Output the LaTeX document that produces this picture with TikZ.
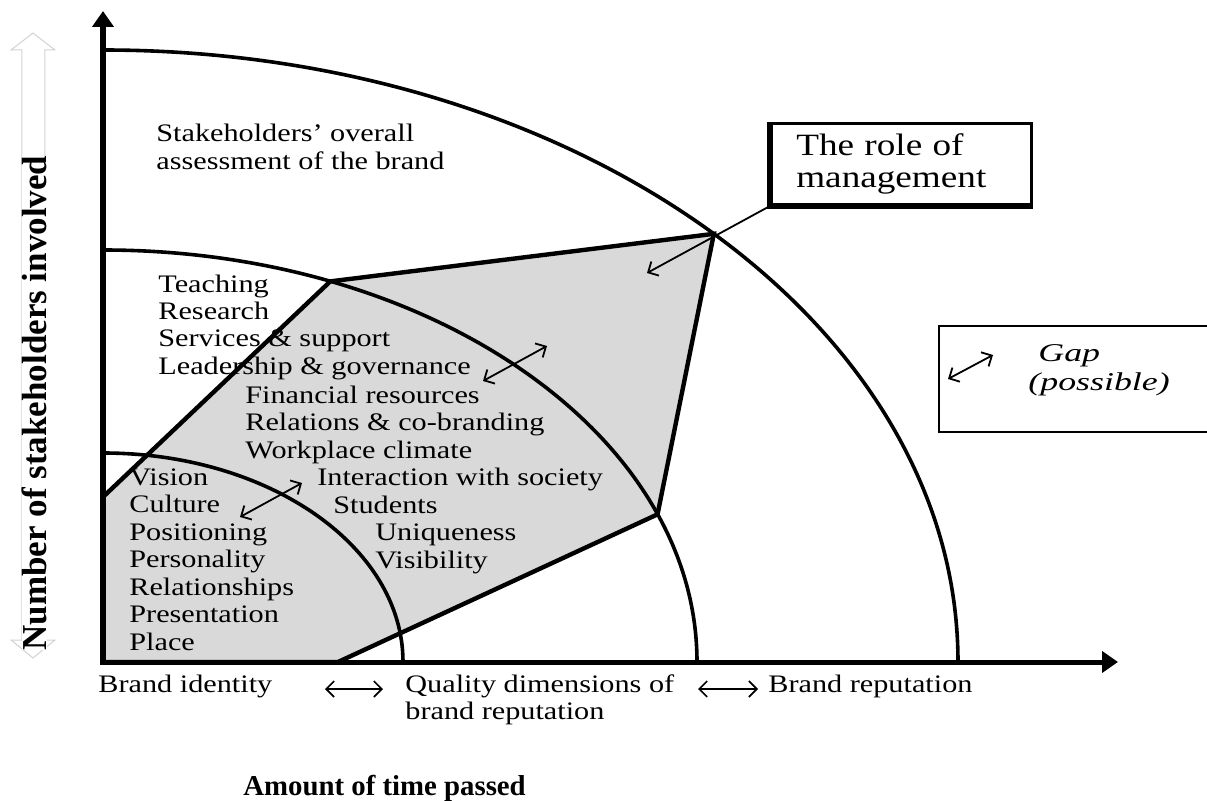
\documentclass[tikz,border=0pt]{standalone}
\usepackage{fontspec}
\setmainfont{Liberation Serif}[FakeStretch=1.2]
\newfontfamily\axisfont{Liberation Serif}
\newfontfamily\gapfont{Liberation Serif}[FakeStretch=1.4]
\usetikzlibrary{arrows.meta, positioning}
\definecolor{zonegray}{RGB}{217,217,217}
\definecolor{hollowgray}{RGB}{210,210,210}

\begin{document}
\begin{tikzpicture}[x=0.5pt, y=0.5pt,
    txt/.style={font=\fontsize{12.6}{13.8}\selectfont, inner sep=0pt, anchor=base west},
    ring/.style={line width=1.8pt},
    zone/.style={fill=zonegray, line width=2.2pt, line join=miter},
    axisline/.style={-{Triangle[length=8pt,width=10.5pt]}},
    twoway/.style={{Straight Barb[length=4pt,width=8pt]}-{Straight Barb[length=4pt,width=8pt]}, line width=0.9pt},
    pointer/.style={-{Straight Barb[length=4pt,width=8pt]}, line width=0.9pt},
    mbox/.style={draw, line width=1.3pt, anchor=south west, minimum width=130pt, minimum height=40.5pt,
        inner xsep=12.5pt, text width=105pt, align=left, font=\fontsize{15.5}{16}\selectfont}
]
\useasboundingbox (-103,-138) rectangle (1104,662);

% shaded zone between identity and reputation
\draw[zone] (0,0) -- (0,165) -- (67.5:594 and 412) -- (44.4:855 and 612)
    -- (21:594 and 412) -- (235,0) -- cycle;

% the three rings
\draw[ring] (300,0) arc[start angle=0, end angle=90, x radius=300, y radius=209];
\draw[ring] (594,0) arc[start angle=0, end angle=90, x radius=594, y radius=412];
\draw[ring] (855,0) arc[start angle=0, end angle=90, x radius=855, y radius=612];

% axes
\draw[axisline, line width=3pt] (0,-1) -- (0,651);
\draw[axisline, line width=2.5pt] (-3,0) -- (1015,0);

% hollow arrow behind the vertical title
\draw[draw=hollowgray, line width=0.5pt] (-81,22) -- (-81,612) -- (-92,612) -- (-70,629)
    -- (-48,612) -- (-58,612) -- (-58,22) -- (-48,22) -- (-70,4) -- (-92,22) -- cycle;
\node[font=\axisfont\bfseries\fontsize{17.5}{17.5}\selectfont, rotate=90, anchor=base,
    fill=white, inner sep=0pt] (ytitle) at (-56,259) {Number of stakeholders involved};
\node[font=\axisfont\bfseries\fontsize{14.4}{14.4}\selectfont, anchor=base west, inner sep=0pt]
    (xtitle) at (140,-133) {Amount of time passed};

% texts inside the rings
\node[txt] (overall1) at (53,520) {Stakeholders' overall};
\node[txt] (overall2) at (53,492) {assessment of the brand};
\foreach \t [count=\i] in {Teaching, Research, Services \& support, Leadership \& governance}
    \node[txt] (mid\i) at (55,{370-27.5*(\i-1)}) {\t};
\foreach \t [count=\i] in {Financial resources, Relations \& co-branding, Workplace climate}
    \node[txt] (fin\i) at (142,{259-27.5*(\i-1)}) {\t};
\node[txt] (society) at (214,177) {Interaction with society};
\node[txt] (students) at (230,149) {Students};
\node[txt] (unique) at (272,122) {Uniqueness};
\node[txt] (visible) at (272,94) {Visibility};
\foreach \t [count=\i] in {Vision, Culture, Positioning, Personality, Relationships, Presentation, Place}
    \node[txt] (core\i) at (26,{177-27.5*(\i-1)}) {\t};

% labels under the time axis
\node[txt] (identity) at (-5,-30) {Brand identity};
\node[txt] (quality) at (302,-30) {Quality dimensions of};
\node[txt] (quality2) at (302,-57) {brand reputation};
\node[txt] (reputation) at (665,-30) {Brand reputation};

\coordinate (b1) at (222,-27);
\coordinate (b2) at (280,-27);
\coordinate (b3) at (595,-27);
\coordinate (b4) at (655,-27);
\draw[twoway, line width=0.8pt] (b1) -- (b2);
\draw[twoway, line width=0.8pt] (b3) -- (b4);

% gaps between the rings
\coordinate (g1a) at (137,145);
\coordinate (g1b) at (199,179);
\coordinate (g2a) at (380,281);
\coordinate (g2b) at (444,316);
\draw[twoway] (g1a) -- (g1b);
\draw[twoway] (g2a) -- (g2b);

% management box
\node[mbox] (mgmt) at (667,456) {The role of\\management};
\draw[line width=2.6pt] (mgmt.north west) |- (mgmt.south east);
\coordinate (mgmtTip) at (544,389);
\draw[pointer] (mgmt.south west) -- (mgmtTip);

% legend box for the gap
\draw[line width=1.2pt] (1104,336) -| (836,230) -- (1104,230);
\coordinate (g3a) at (845,283);
\coordinate (g3b) at (890,307);
\draw[twoway] (g3a) -- (g3b);
\node[txt, font=\gapfont\itshape\fontsize{12.8}{13}\selectfont] (gap) at (935,300) {Gap};
\node[txt, font=\gapfont\itshape\fontsize{12.8}{13}\selectfont] (possible) at (925,271) {(possible)};
\end{tikzpicture}
\end{document}
